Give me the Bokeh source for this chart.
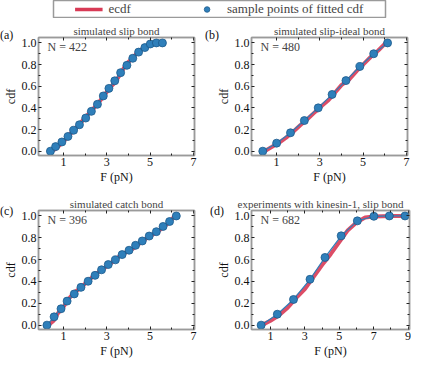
from bokeh.plotting import figure
from bokeh.layouts import column, row
from bokeh.models import (ColumnDataSource, FixedTicker, LinearAxis, Label,
                          Legend, LegendItem, Range1d, CustomJSTickFormatter, Div)
from bokeh.embed import file_html
from bokeh.resources import INLINE

# ---------------- data ----------------
titles = ["simulated slip bond", "simulated slip-ideal bond",
          "simulated catch bond", "experiments with kinesin-1, slip bond"]
panel_tags = ["(a)", "(b)", "(c)", "(d)"]
n_counts = [422, 480, 396, 682]

# fitted cdf sample points
fit_x_a = [0.40, 0.64, 0.93, 1.21, 1.47, 1.74, 2.03, 2.29, 2.57, 2.84,
           3.10, 3.37, 3.64, 3.93, 4.20, 4.47, 4.76, 5.01, 5.29, 5.57]
fit_y_a = [0.000, 0.042, 0.085, 0.136, 0.193, 0.244, 0.306, 0.368, 0.433, 0.510,
           0.580, 0.650, 0.725, 0.793, 0.858, 0.915, 0.957, 0.990, 1.000, 1.000]
fit_x_b = [0.37, 1.01, 1.65, 2.29, 2.93, 3.57, 4.21, 4.85, 5.49, 6.13]
fit_y_b = [0.000, 0.074, 0.170, 0.283, 0.400, 0.524, 0.652, 0.782, 0.900, 1.000]
fit_x_c = [0.24, 0.57, 0.89, 1.17, 1.50, 1.81, 2.14, 2.46, 2.76, 3.07,
           3.40, 3.71, 4.03, 4.33, 4.64, 4.96, 5.29, 5.60, 5.90, 6.21]
fit_y_c = [0.000, 0.076, 0.150, 0.220, 0.286, 0.346, 0.402, 0.456, 0.507, 0.555,
           0.598, 0.646, 0.686, 0.731, 0.771, 0.816, 0.856, 0.904, 0.949, 1.000]
fit_x_d = [0.46, 1.40, 2.34, 3.30, 4.17, 5.11, 6.05, 7.01, 7.91, 8.82]
fit_y_d = [0.000, 0.100, 0.235, 0.420, 0.620, 0.818, 0.955, 0.997, 1.000, 1.000]

# empirical cdf (ecdf) traces
ecdf_x_a = [0.45, 0.70, 0.95, 1.20, 1.45, 1.75, 2.00, 2.30, 2.55, 2.85,
            3.10, 3.40, 3.65, 3.90, 4.20, 4.45, 4.75, 5.00, 5.25, 5.50]
ecdf_y_a = [0.000, 0.030, 0.080, 0.130, 0.190, 0.250, 0.310, 0.375, 0.430, 0.505,
            0.575, 0.640, 0.720, 0.805, 0.860, 0.920, 0.955, 0.985, 0.995, 1.000]
ecdf_x_b = [0.45, 0.80, 1.10, 1.45, 1.75, 2.10, 2.45, 2.80, 3.10, 3.40,
            3.70, 4.00, 4.35, 4.70, 5.00, 5.35, 5.70, 6.05]
ecdf_y_b = [0.000, 0.040, 0.075, 0.125, 0.175, 0.240, 0.300, 0.365, 0.420, 0.470,
            0.540, 0.610, 0.660, 0.740, 0.800, 0.870, 0.930, 1.000]
ecdf_x_c = [0.30, 0.55, 0.75, 0.95, 1.20, 1.50, 1.80, 2.10, 2.45, 2.75,
            3.05, 3.40, 3.70, 4.05, 4.35, 4.65, 4.95, 5.30, 5.60, 5.90, 6.15]
ecdf_y_c = [0.000, 0.040, 0.110, 0.150, 0.230, 0.300, 0.340, 0.400, 0.460, 0.505,
            0.545, 0.600, 0.650, 0.680, 0.720, 0.770, 0.810, 0.850, 0.895, 0.945, 1.000]
ecdf_x_d = [0.50, 1.00, 1.50, 2.00, 2.50, 3.00, 3.50, 4.00, 4.50, 5.00,
            5.50, 6.00, 6.50, 7.00, 8.00, 8.80]
ecdf_y_d = [0.000, 0.040, 0.090, 0.160, 0.250, 0.330, 0.440, 0.550, 0.650, 0.760,
            0.870, 0.940, 0.985, 0.995, 1.000, 1.000]

x_ticks_abc = [1, 3, 5, 7]
x_minor_abc = [2, 4, 6]
x_ticks_d = [1, 3, 5, 7, 9]
x_minor_d = [2, 4, 6, 8]
y_ticks = [0.0, 0.2, 0.4, 0.6, 0.8, 1.0]
y_minor = [0.1, 0.3, 0.5, 0.7, 0.9]

# ---------------- style ----------------
FONT = "Liberation Serif"
RED = "#d83a55"
BLUE = "#2f7fba"
BLUE_EDGE = "#1d5a8c"
FRAME = "#9a9a9a"


def style_axis(ax, ticks, minor, show_labels=True):
    ax.ticker = FixedTicker(ticks=ticks, minor_ticks=minor)
    ax.axis_line_color = FRAME
    ax.axis_line_width = 1.5
    ax.major_tick_in = 3
    ax.major_tick_out = 0
    ax.minor_tick_in = 2
    ax.minor_tick_out = 0
    ax.major_tick_line_color = "#222222"
    ax.minor_tick_line_color = "#222222"
    ax.major_label_text_font = FONT
    ax.major_label_text_font_size = "12px"
    ax.major_label_text_font_style = "normal"
    ax.major_label_text_color = "#111111"
    ax.major_label_standoff = 2
    ax.axis_label_text_font = FONT
    ax.axis_label_text_font_size = "12px"
    ax.axis_label_text_font_style = "normal"
    ax.axis_label_text_color = "#111111"
    ax.axis_label_standoff = 1
    if not show_labels:
        ax.major_label_text_font_size = "0px"
        ax.major_label_text_alpha = 0


def make_panel(idx, fx, fy, ex, ey, xr, xt, xm, w, h, bl, br, bt, bb,
               title_align="center", title_offset=0):
    p = figure(width=w, height=h, output_backend="svg", toolbar_location=None,
               x_range=Range1d(*xr), y_range=Range1d(-0.04, 1.05),
               min_border_left=bl, min_border_right=br,
               min_border_top=bt, min_border_bottom=bb,
               x_axis_label="F (pN)", y_axis_label="cdf")
    p.grid.visible = False
    p.outline_line_color = FRAME
    p.outline_line_width = 1.5
    p.background_fill_color = "white"
    p.border_fill_color = "white"
    p.title.text = titles[idx]
    p.title.text_font = FONT
    p.title.text_font_size = "11px"
    p.title.text_font_style = "normal"
    p.title.align = title_align
    p.title.standoff = 2
    p.title.offset = title_offset
    style_axis(p.xaxis[0], xt, xm)
    style_axis(p.yaxis[0], y_ticks, y_minor)
    p.yaxis[0].formatter = CustomJSTickFormatter(code="return tick.toFixed(1)")
    top = LinearAxis()
    right = LinearAxis()
    style_axis(top, xt, xm, show_labels=False)
    style_axis(right, y_ticks, y_minor, show_labels=False)
    p.add_layout(top, "above")
    p.add_layout(right, "right")
    top.major_label_standoff = 0
    right.major_label_standoff = 0

    esrc = ColumnDataSource(dict(x=ex, y=ey))
    fsrc = ColumnDataSource(dict(x=fx, y=fy))
    p.line("x", "y", source=esrc, line_color=RED, line_width=4, line_alpha=0.9)
    p.line("x", "y", source=fsrc, line_color=BLUE, line_width=1.2)
    p.scatter("x", "y", source=fsrc, size=8, fill_color=BLUE,
              line_color=BLUE_EDGE, line_width=0.8)

    fh = h - bt - bb
    p.add_layout(Label(x=9, y=fh - 14, x_units="screen", y_units="screen",
                       text=f"N = {n_counts[idx]}", text_font=FONT,
                       text_font_size="12px", text_font_style="normal",
                       text_baseline="middle", text_align="left"))
    return p


pa = make_panel(0, fit_x_a, fit_y_a, ecdf_x_a, ecdf_y_a, (-0.15, 7.05),
                x_ticks_abc, x_minor_abc, 213, 168, 31, 19, 19, 26)
pb = make_panel(1, fit_x_b, fit_y_b, ecdf_x_b, ecdf_y_b, (-0.15, 7.05),
                x_ticks_abc, x_minor_abc, 198, 168, 31, 4, 19, 26)
pc = make_panel(2, fit_x_c, fit_y_c, ecdf_x_c, ecdf_y_c, (-0.15, 7.05),
                x_ticks_abc, x_minor_abc, 213, 174, 31, 19, 24, 26)
pd_ = make_panel(3, fit_x_d, fit_y_d, ecdf_x_d, ecdf_y_d, (-0.1, 9.08),
                 x_ticks_d, x_minor_d, 198, 174, 31, 2, 24, 26,
                 title_align="left", title_offset=-14)

# ---------------- legend strip ----------------
lg = figure(width=411, height=18, output_backend="svg", toolbar_location=None,
            x_range=Range1d(0, 1), y_range=Range1d(0, 1),
            min_border_left=53, min_border_right=26, min_border_top=0,
            min_border_bottom=0)
lg.axis.visible = False
lg.grid.visible = False
lg.outline_line_color = FRAME
lg.outline_line_width = 1.5
hidden = ColumnDataSource(dict(x=[-5.0, -4.0], y=[-5.0, -4.0]))
r1 = lg.line("x", "y", source=hidden, line_color=RED, line_width=3.5)
r2 = lg.scatter("x", "y", source=hidden, size=8, fill_color=BLUE,
                line_color=BLUE_EDGE, line_width=0.8)
leg = Legend(items=[LegendItem(label="ecdf", renderers=[r1]),
                    LegendItem(label="sample points of fitted cdf", renderers=[r2])],
             orientation="horizontal", location="center",
             label_text_font=FONT, label_text_font_size="13px",
             glyph_width=28, glyph_height=14, label_height=14,
             spacing=62, padding=0, margin=0, label_standoff=6,
             border_line_alpha=0, background_fill_alpha=0)
lg.add_layout(leg, "center")

# ---------------- panel tags as overlay text ----------------
tag_pos = [(0, 29), (205, 29), (0, 205), (210, 205)]
tags = []
for t, (tx, ty) in zip(panel_tags, tag_pos):
    tags.append(Div(text=t, styles={
        "position": "absolute", "left": f"{tx}px", "top": f"{ty}px",
        "z-index": "10", "font-family": "'Liberation Serif', serif",
        "font-size": "12px", "font-weight": "normal", "font-style": "normal",
        "line-height": "12px", "color": "#111111", "margin": "0",
        "padding": "0"}))

page = column(lg, row(pa, pb), row(pc, pd_), *tags)
open("out.html", "w").write(file_html(page, INLINE))
